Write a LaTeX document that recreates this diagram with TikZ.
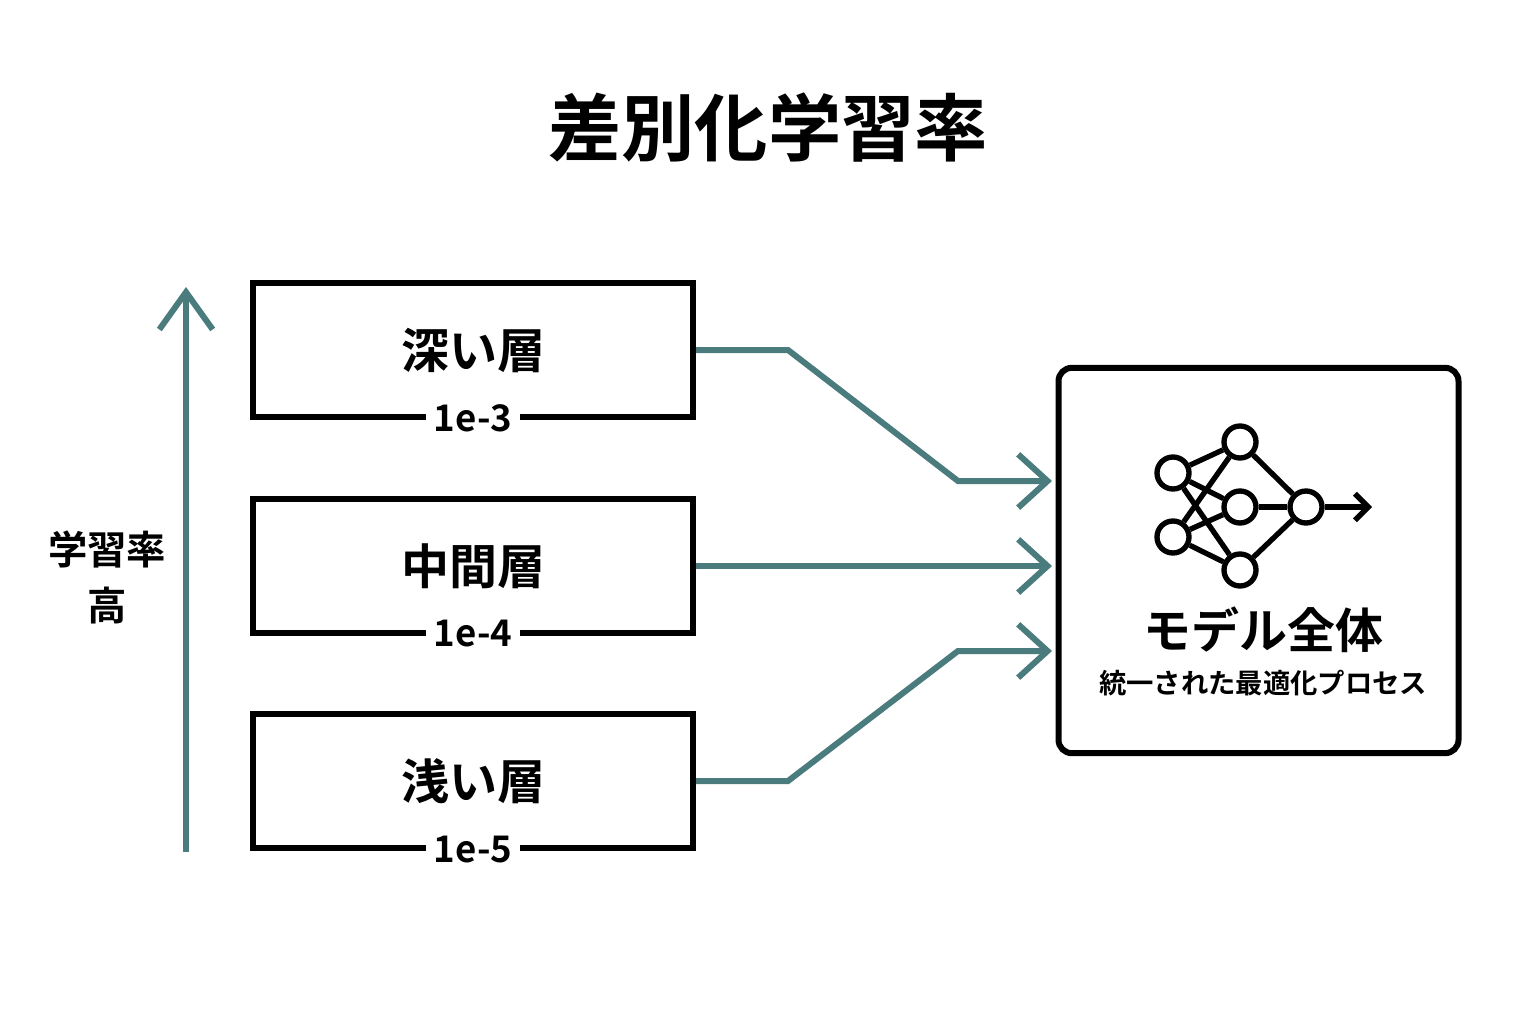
\documentclass[tikz,border=0pt]{standalone}
\usepackage{fontspec}
\setmainfont{Noto Sans CJK JP}[BoldFont={* Bold}]
\usetikzlibrary{arrows.meta}
\definecolor{teal1}{HTML}{4A7C7E}
\begin{document}
\begin{tikzpicture}[x=0.75pt,y=-0.75pt,
 box/.style={draw=black,line width=4.5pt,minimum width=330pt,minimum height=101pt,inner sep=0,font=\bfseries\fontsize{36}{40}\selectfont},
 lr/.style={fill=white,inner xsep=6pt,inner ysep=1pt,font=\bfseries\fontsize{27.5}{30}\selectfont},
 con/.style={draw=teal1,line width=4.5pt,-{Straight Barb[length=22pt,width=40pt,line width=4.5pt]}},
 nn/.style={circle,draw=black,line width=4pt,minimum size=24pt,inner sep=0,fill=white},
 ie/.style={line width=4pt}]
\useasboundingbox (0,0) rectangle (1536,1024);
\fill[white] (0,0) rectangle (1536,1024);
\node[font=\bfseries\fontsize{55}{60}\selectfont] (title) at (768,128) {差別化学習率};
\node[box] (deep) at (473,350) {深い層};
\node[box] (mid) at (473,566) {中間層};
\node[box] (shal) at (473,781) {浅い層};
\node[lr] at (473,418) {1e-3};
\node[lr] at (473,634) {1e-4};
\node[lr] at (473,850) {1e-5};
\coordinate (a0) at (186,852);\coordinate (a1) at (186,287);
\draw[teal1,line width=4.5pt,-{Straight Barb[length=28pt,width=40pt,line width=4.5pt]}] (a0) -- (a1);
\node[align=center,font=\bfseries\fontsize{29.5}{42}\selectfont] (lab) at (107,577) {学習率\\高};
\node[draw=black,line width=4.5pt,rounded corners=10pt,minimum width=300pt,minimum height=289pt] (model) at (1258.5,560.5) {};
\coordinate (t1) at (1052,481);\coordinate (t2) at (1052,566);\coordinate (t3) at (1052,651);
\draw[con] (deep.east) -- (788,350) -- (958,481) -- (t1);
\draw[con] (mid.east) -- (t2);
\draw[con] (shal.east) -- (788,781) -- (958,651) -- (t3);
\node[nn] (i1) at (1173,473) {};\node[nn] (i2) at (1173,537) {};
\node[nn] (h1) at (1240,442) {};\node[nn] (h2) at (1240,507) {};\node[nn] (h3) at (1240,570) {};
\node[nn] (o) at (1306,507) {};
\coordinate (oe) at (1372,507);
\foreach \a in {i1,i2}{\foreach \b in {h1,h2,h3}{\draw[ie] (\a) -- (\b);}}
\foreach \b in {h1,h2,h3}{\draw[ie] (\b) -- (o);}
\draw[ie,-{Straight Barb[length=10pt,width=20pt,line width=4pt]}] (o) -- (oe);
\node[font=\bfseries\fontsize{36}{40}\selectfont] (mt) at (1263,630) {モデル全体};
\node[font=\bfseries\fontsize{20.5}{24}\selectfont] (ms) at (1263,683) {統一された最適化プロセス};
\end{tikzpicture}
\end{document}
